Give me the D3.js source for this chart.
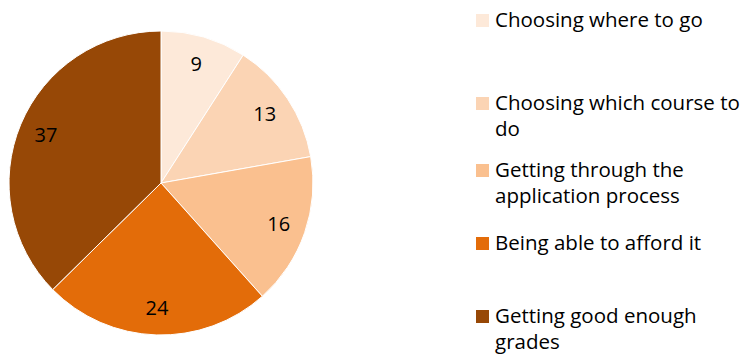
<!DOCTYPE html>
<html>
<head>
<meta charset="utf-8">
<script src="https://cdn.jsdelivr.net/npm/d3@7"></script>
<style>
  html, body { margin: 0; padding: 0; background: #fff; }
  svg text { font-family: "Open Sans", Lato, sans-serif; fill: #000; }
</style>
</head>
<body>
<svg id="chart" width="744" height="358"></svg>
<script>
// Shares of respondents naming each concern
const categories = [
  "Choosing where to go",
  "Choosing which course to do",
  "Getting through the application process",
  "Being able to afford it",
  "Getting good enough grades"
];
const values = [9, 13, 16, 24, 37];
const colors = ["#FDE9D9", "#FBD4B4", "#FAC08F", "#E36C09", "#974806"];
// Legend text split onto the lines it wraps to
const legendLines = [
  ["Choosing where to go"],
  ["Choosing which course to", "do"],
  ["Getting through the", "application process"],
  ["Being able to afford it"],
  ["Getting good enough", "grades"]
];

const svg = d3.select("#chart");
const cx = 161, cy = 183, radius = 152;

const pie = d3.pie().sort(null).value(d => d)(values);
const arc = d3.arc().innerRadius(0).outerRadius(radius);
const labelArc = d3.arc().innerRadius(radius * 0.82).outerRadius(radius * 0.82);

const g = svg.append("g").attr("transform", `translate(${cx},${cy})`);

g.selectAll("path.slice")
  .data(pie)
  .join("path")
  .attr("class", "slice")
  .attr("d", arc)
  .attr("fill", (d, i) => colors[i])
  .attr("stroke", "#fff")
  .attr("stroke-width", 1);

g.selectAll("text.value")
  .data(pie)
  .join("text")
  .attr("class", "value")
  .attr("transform", d => `translate(${labelArc.centroid(d)})`)
  .attr("text-anchor", "middle")
  .attr("dy", "0.36em")
  .style("font-size", "20px")
  .text(d => d.data);

// Legend
const legendTops = [27, 110, 177, 250, 323];
const legend = svg.append("g");
categories.forEach((c, i) => {
  const item = legend.append("g").attr("transform", `translate(476,${legendTops[i]})`);
  item.append("rect")
    .attr("x", 0).attr("y", -13)
    .attr("width", 13).attr("height", 13)
    .attr("fill", colors[i]);
  const t = item.append("text").style("font-size", "20.5px");
  legendLines[i].forEach((line, j) => {
    t.append("tspan").attr("x", 19).attr("y", j * 26).text(line);
  });
});
</script>
</body>
</html>
